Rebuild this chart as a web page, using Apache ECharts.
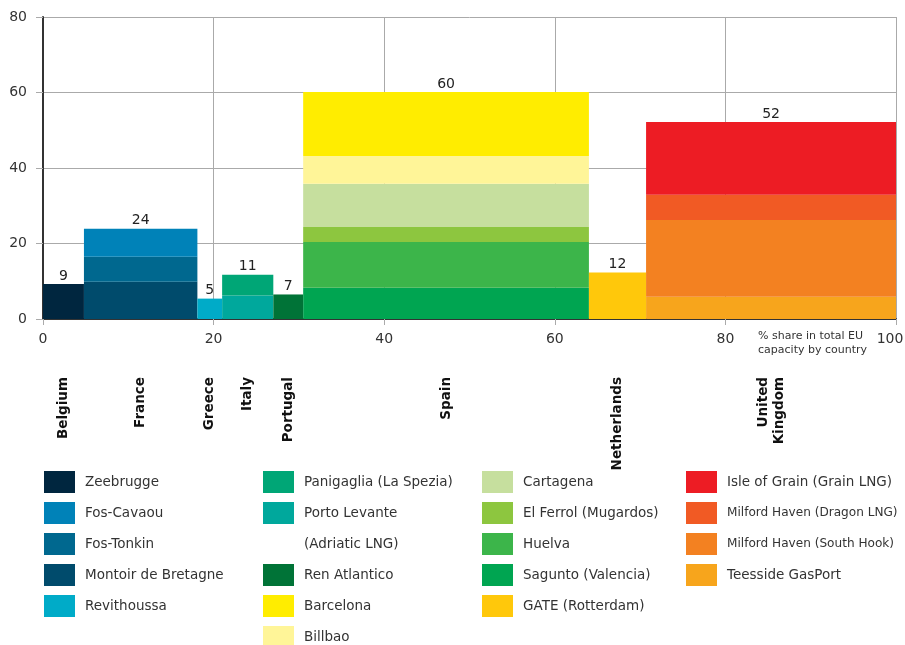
<!DOCTYPE html>
<html><head><meta charset="utf-8">
<script src="https://cdn.jsdelivr.net/npm/echarts@6/dist/echarts.min.js"></script>
<style>html,body{margin:0;padding:0;background:#fff;overflow:hidden}#c{width:905px;height:645px}</style>
</head><body><div id="c"></div>
<script>
// ---- data ----
const countries = ['Belgium', 'France', 'Greece', 'Italy', 'Portugal', 'Spain', 'Netherlands', 'United\nKingdom'];
const shares = [4.8, 13.3, 2.9, 6.0, 3.5, 33.5, 6.7, 29.3];
const totalLabels = ['9', '24', '5', '11', '7', '60', '12', '52'];

// terminals, bottom to top within each country
const terminals = [
  'Zeebrugge',
  'Montoir de Bretagne', 'Fos-Tonkin', 'Fos-Cavaou',
  'Revithoussa',
  'Porto Levante', 'Panigaglia (La Spezia)',
  'Ren Atlantico',
  'Sagunto (Valencia)', 'Huelva', 'El Ferrol (Mugardos)', 'Cartagena', 'Billbao', 'Barcelona',
  'GATE (Rotterdam)',
  'Teesside GasPort', 'Milford Haven (South Hook)', 'Milford Haven (Dragon LNG)', 'Isle of Grain (Grain LNG)'
];
const terminalCountry = [0, 1, 1, 1, 2, 3, 3, 4, 5, 5, 5, 5, 5, 5, 6, 7, 7, 7, 7];
const terminalValues = [9.3, 9.9, 6.6, 7.4, 5.4, 6.2, 5.5, 6.5, 8.3, 12.1, 4.0, 11.4, 7.4, 16.9, 12.3, 5.9, 20.3, 6.7, 19.3];

const xTicks = [0, 20, 40, 60, 80, 100];
const yTicks = [0, 20, 40, 60, 80];
const xAxisNote = '% share in total EU\ncapacity by country';

// legend columns
const legendCol1 = ['Zeebrugge', 'Fos-Cavaou', 'Fos-Tonkin', 'Montoir de Bretagne', 'Revithoussa'];
const legendCol2a = ['Panigaglia (La Spezia)', 'Porto Levante'];
const legendCol2aNote = '(Adriatic LNG)';
const legendCol2b = ['Ren Atlantico', 'Barcelona', 'Billbao'];
const legendCol3 = ['Cartagena', 'El Ferrol (Mugardos)', 'Huelva', 'Sagunto (Valencia)', 'GATE (Rotterdam)'];
const legendCol4 = ['Isle of Grain (Grain LNG)', 'Milford Haven (Dragon LNG)', 'Milford Haven (South Hook)', 'Teesside GasPort'];

// ---- styles ----
const colors = {
  'Zeebrugge': '#00263f', 'Fos-Cavaou': '#0082b8', 'Fos-Tonkin': '#00688f', 'Montoir de Bretagne': '#004b6c',
  'Revithoussa': '#00abc8', 'Panigaglia (La Spezia)': '#00a676', 'Porto Levante': '#00a89c',
  'Ren Atlantico': '#007337', 'Barcelona': '#ffed00', 'Billbao': '#fff598', 'Cartagena': '#c6df9e',
  'El Ferrol (Mugardos)': '#8dc63f', 'Huelva': '#3cb54a', 'Sagunto (Valencia)': '#00a551',
  'GATE (Rotterdam)': '#ffc80b', 'Isle of Grain (Grain LNG)': '#ed1c24', 'Milford Haven (Dragon LNG)': '#f15a24',
  'Milford Haven (South Hook)': '#f38121', 'Teesside GasPort': '#f7a51c'
};
const FONT = 'DejaVu Sans';
const TXT = '#333333';
const LEGEND_SIZE = 13.5;
const narrowLegend = { 'Milford Haven (Dragon LNG)': 12.1, 'Milford Haven (South Hook)': 12.1 };

// ---- build ----
const xStart = [];
let acc = 0;
shares.forEach(s => { xStart.push(acc); acc += s; });
const stackTop = countries.map(() => 0);

const series = terminals.map((name, i) => {
  const c = terminalCountry[i];
  const y0 = stackTop[c];
  const y1 = y0 + terminalValues[i];
  stackTop[c] = y1;
  return {
    type: 'custom', name: name, coordinateSystem: 'cartesian2d',
    itemStyle: { color: colors[name] },
    data: [[xStart[c], xStart[c] + shares[c], y0, y1]],
    encode: { x: [0, 1], y: [2, 3] },
    renderItem: function (params, api) {
      const p0 = api.coord([api.value(0), api.value(3)]);
      const p1 = api.coord([api.value(1), api.value(2)]);
      return { type: 'rect', shape: { x: p0[0], y: p0[1], width: p1[0] - p0[0], height: p1[1] - p0[1] },
               style: { fill: api.visual('color') } };
    }
  };
});

// totals labels
series.push({
  type: 'custom', name: 'totals', coordinateSystem: 'cartesian2d', silent: true,
  data: countries.map((c, i) => [xStart[i] + shares[i] / 2, stackTop[i], i]),
  encode: { x: 0, y: 1 },
  renderItem: function (params, api) {
    const p = api.coord([api.value(0), api.value(1)]);
    return { type: 'text', x: p[0], y: p[1] - 1,
      style: { text: totalLabels[api.value(2)], align: 'center', verticalAlign: 'bottom',
               fontFamily: FONT, fontSize: 14, fill: '#222' } };
  }
});

// country labels (rotated, below axis)
series.push({
  type: 'custom', name: 'countries', coordinateSystem: 'cartesian2d', silent: true,
  data: countries.map((c, i) => [xStart[i] + shares[i] / 2, 0, i]),
  encode: { x: 0, y: 1 },
  renderItem: function (params, api) {
    const p = api.coord([api.value(0), api.value(1)]);
    return { type: 'text', x: p[0], y: p[1] + 58, rotation: Math.PI / 2,
      style: { text: countries[api.value(2)], x: 0, y: 0, align: 'right', verticalAlign: 'middle',
               fontFamily: FONT, fontSize: 13.5, fontWeight: 'bold', fill: '#111', lineHeight: 16 } };
  }
});

function legend(data, left, top) {
  return {
    data: data.map(n => narrowLegend[n] ? { name: n, textStyle: { fontSize: narrowLegend[n] } } : n),
    orient: 'vertical', left: left, top: top, height: 200, padding: 0,
    itemWidth: 31, itemHeight: 22, itemGap: 9, icon: 'rect', selectedMode: false,
    textStyle: { fontFamily: FONT, fontSize: LEGEND_SIZE, color: TXT, padding: [0, 0, 0, 5] }
  };
}

const xMax = xTicks[xTicks.length - 1];

const option = {
  animation: false,
  backgroundColor: '#fff',
  grid: { left: 43, right: 9, top: 17, bottom: 326, containLabel: false, outerBoundsMode: 'none' },
  xAxis: {
    type: 'value', min: xTicks[0], max: xMax, interval: 20,
    axisLine: { show: true, lineStyle: { color: '#333', width: 2 } },
    axisTick: { show: true, length: 6, lineStyle: { color: '#aaa' } },
    axisLabel: { fontFamily: FONT, fontSize: 14, color: TXT, margin: 13,
      formatter: v => v === xMax ? '{m|' + v + '}' : String(v),
      rich: { m: { fontFamily: FONT, fontSize: 14, color: TXT, padding: [0, 12, 0, 0] } } },
    splitLine: { show: true, lineStyle: { color: '#aaa', width: 1 } }
  },
  yAxis: {
    type: 'value', min: yTicks[0], max: yTicks[yTicks.length - 1], interval: 20,
    axisLine: { show: true, lineStyle: { color: '#333', width: 2 } },
    axisTick: { show: true, length: 7, lineStyle: { color: '#aaa' } },
    axisLabel: { fontFamily: FONT, fontSize: 14, color: TXT, margin: 16 },
    splitLine: { show: true, lineStyle: { color: '#aaa', width: 1 } }
  },
  legend: [
    legend(legendCol1, 44, 471),
    legend(legendCol2a, 263, 471),
    legend(legendCol2b, 263, 564),
    legend(legendCol3, 482, 471),
    legend(legendCol4, 686, 471)
  ],
  graphic: [
    { type: 'text', left: 304, top: 537,
      style: { text: legendCol2aNote, fontFamily: FONT, fontSize: LEGEND_SIZE, fill: TXT } },
    { type: 'text', right: 38, top: 329,
      style: { text: xAxisNote, align: 'right', fontFamily: FONT, fontSize: 11, lineHeight: 14, fill: TXT } }
  ],
  series: series
};

const chart = echarts.init(document.getElementById('c'), null, { renderer: 'canvas' });
chart.setOption(option);
</script>
</body></html>
